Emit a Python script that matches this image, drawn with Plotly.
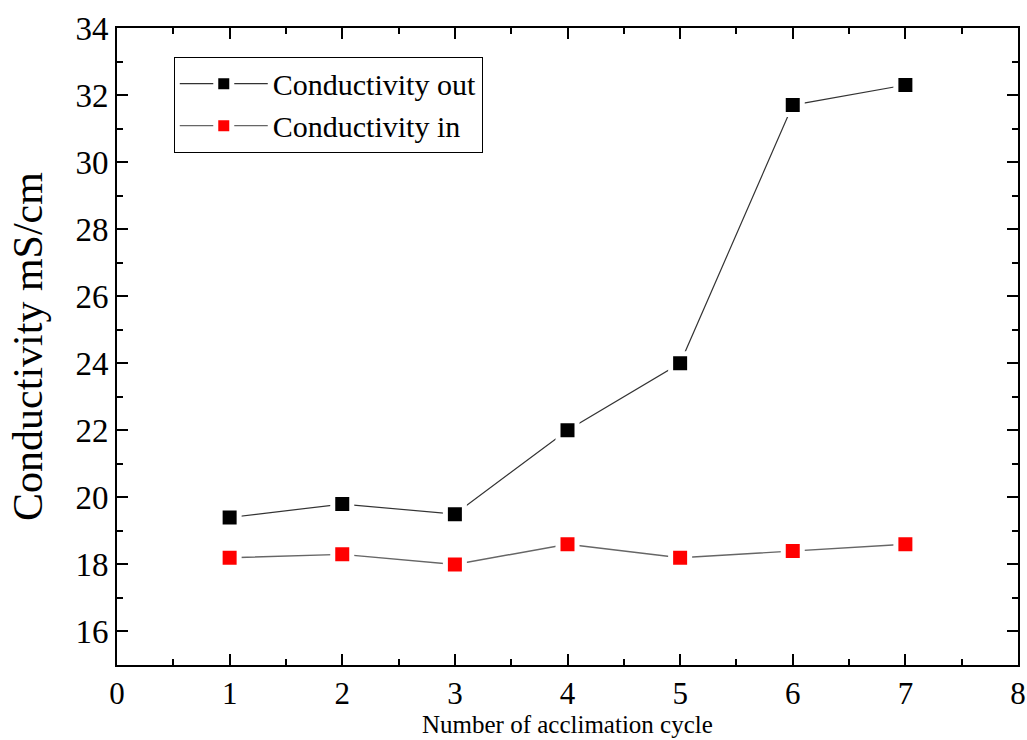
import plotly.graph_objects as go

cycles = [1, 2, 3, 4, 5, 6, 7]
cond_out = [19.4, 19.8, 19.5, 22.0, 24.0, 31.7, 32.3]
cond_in = [18.2, 18.3, 18.0, 18.6, 18.2, 18.4, 18.6]
x_title = "Number of acclimation cycle"
y_title = "Conductivity mS/cm"

FONT = "'Liberation Serif', 'Times New Roman', Times, serif"

fig = go.Figure()
fig.add_trace(go.Scatter(
    x=cycles, y=cond_out, mode="lines+markers", name="Conductivity out",
    line=dict(color="#333333", width=1.2),
    marker=dict(symbol="square", size=19, color="black", line=dict(color="white", width=5)),
))
fig.add_trace(go.Scatter(
    x=cycles, y=cond_in, mode="lines+markers", name="Conductivity in",
    line=dict(color="#666666", width=1.4),
    marker=dict(symbol="square", size=19, color="#ff0000", line=dict(color="white", width=5)),
))

axis_common = dict(
    showline=True, linecolor="black", linewidth=2, mirror="ticks",
    ticks="inside", ticklen=11, tickwidth=2, tickcolor="black",
    showgrid=False, zeroline=False, automargin=False,
)

fig.update_layout(
    width=1027, height=740,
    margin=dict(l=117, r=9, t=28, b=75),
    paper_bgcolor="white", plot_bgcolor="white",
    font=dict(family=FONT, color="black"),
    xaxis=dict(
        range=[0, 8], dtick=1, tick0=0,
        tickfont=dict(family=FONT, size=31, color="black"),
        minor=dict(ticks="inside", ticklen=6, tickwidth=2, tickcolor="black", dtick=0.5, tick0=0),
        **axis_common,
    ),
    yaxis=dict(
        range=[15, 34], dtick=2, tick0=16,
        tickfont=dict(family=FONT, size=33, color="black"),
        title=dict(text=y_title, font=dict(family=FONT, size=42), standoff=20),
        minor=dict(ticks="inside", ticklen=6, tickwidth=2, tickcolor="black", dtick=1, tick0=15),
        **axis_common,
    ),
    legend=dict(
        x=0.063, y=0.955, xanchor="left", yanchor="top",
        bordercolor="black", borderwidth=1, bgcolor="white",
        font=dict(family=FONT, size=30, color="black"),
        itemwidth=88, tracegroupgap=0,
    ),
    showlegend=True,
    annotations=[dict(
        text=x_title, x=0.5, y=0, xref="paper", yref="paper",
        xanchor="center", yanchor="top", yshift=-44, showarrow=False,
        font=dict(family=FONT, size=25, color="black"),
    )],
)

fig.write_html("out.html")
